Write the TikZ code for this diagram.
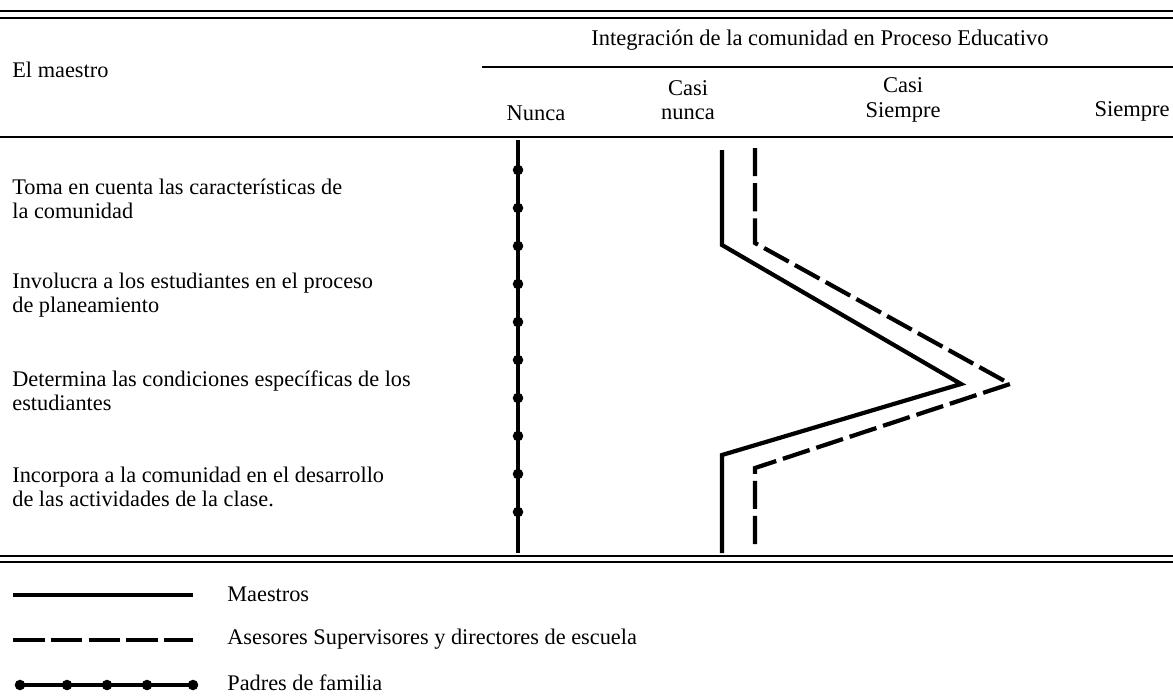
\documentclass[tikz,border=0pt]{standalone}
\usepackage{fontspec}
\setmainfont{Liberation Serif}
\usetikzlibrary{positioning}

\begin{document}
\begin{tikzpicture}
	[x=0.02cm,y=-0.02cm,
	 rule/.style={line width=1.2pt},
	 maestros/.style={line width=2.4pt},
	 asesores/.style={line width=2.4pt,dash pattern=on 16pt off 4pt},
	 asesoresley/.style={line width=2.2pt,dash pattern=on 18pt off 3.5pt},
	 padres/.style={line width=2.1pt},
	 punto/.style={circle,fill,inner sep=0pt,minimum size=6pt},
	 fila/.style={anchor=west,align=left,inner sep=0pt,font=\fontsize{12.7}{13.8}\selectfont},
	 cab/.style={align=center,inner sep=0pt,font=\fontsize{12.8}{13.8}\selectfont}]
\useasboundingbox (0,0) rectangle (1173,696);
% cabecera
\draw[rule] (0,11) -- (1173,11) (0,18) -- (1173,18);
\node[cab] (integ) at (820,40) {Integración de la comunidad en Proceso Educativo};
\draw[rule] (482,67) -- (1173,67);
\node[fila] (maestro) at (12,70) {El maestro};
\node[cab] (nunca) at (536,113) {Nunca};
\node[cab] (casinunca) at (688,100) {Casi\\nunca};
\node[cab] (casisiempre) at (903,100) {Casi\\Siempre};
\node[cab,anchor=east] (siempre) at (1170,111) {Siempre};
\draw[rule] (0,137) -- (1173,137);
% filas
\foreach \t [count=\i] in {{Toma en cuenta las características de\\la comunidad},
	{Involucra a los estudiantes en el proceso\\de planeamiento},
	{Determina las condiciones específicas de los\\estudiantes},
	{Incorpora a la comunidad en el desarrollo\\de las actividades de la clase.}}
\node[fila] (fila\i) at (12,{103+96*\i}) {\t};
% padres de familia
\coordinate (p0) at (518,140);
\coordinate (p11) at (518,553);
\draw[padres] (p0) -- (p11);
\foreach \k in {1,...,10}
\node[punto] (p\k) at (518,{132+38*\k}) {};
% maestros
\coordinate (m1) at (722,150);
\coordinate (m2) at (722,245);
\coordinate (m3) at (961,384);
\coordinate (m4) at (722,455);
\coordinate (m5) at (722,553);
\draw[maestros] (m1) -- (m2) -- (m3) -- (m4) -- (m5);
% asesores
\coordinate (a1) at (755,148);
\coordinate (a2) at (755,243);
\coordinate (a3) at (1010,384);
\coordinate (a4) at (755,468);
\coordinate (a5) at (755,548);
\draw[asesores] (a1) -- (a2) -- (a3) -- (a4) -- (a5);
\draw[rule] (0,556) -- (1173,556) (0,562) -- (1173,562);
% leyenda
\node[fila] (leym) at (227,594) {Maestros};
\node[fila] (leya) at (227,639) {Asesores Supervisores y directores de escuela};
\node[fila] (leyp) at (227,683) {Padres de familia};
\coordinate (lm) at (13,595);
\draw[maestros] (lm) -- ++(180,0);
\coordinate (la) at (13,640);
\draw[asesoresley] (la) -- ++(180,0);
\coordinate (lp) at (20,685);
\draw[padres] (lp) -- ++(173,0);
\foreach \x [count=\j] in {20,67,107,147,193}
\node[punto] (lp\j) at (\x,685) {};
\end{tikzpicture}
\end{document}
